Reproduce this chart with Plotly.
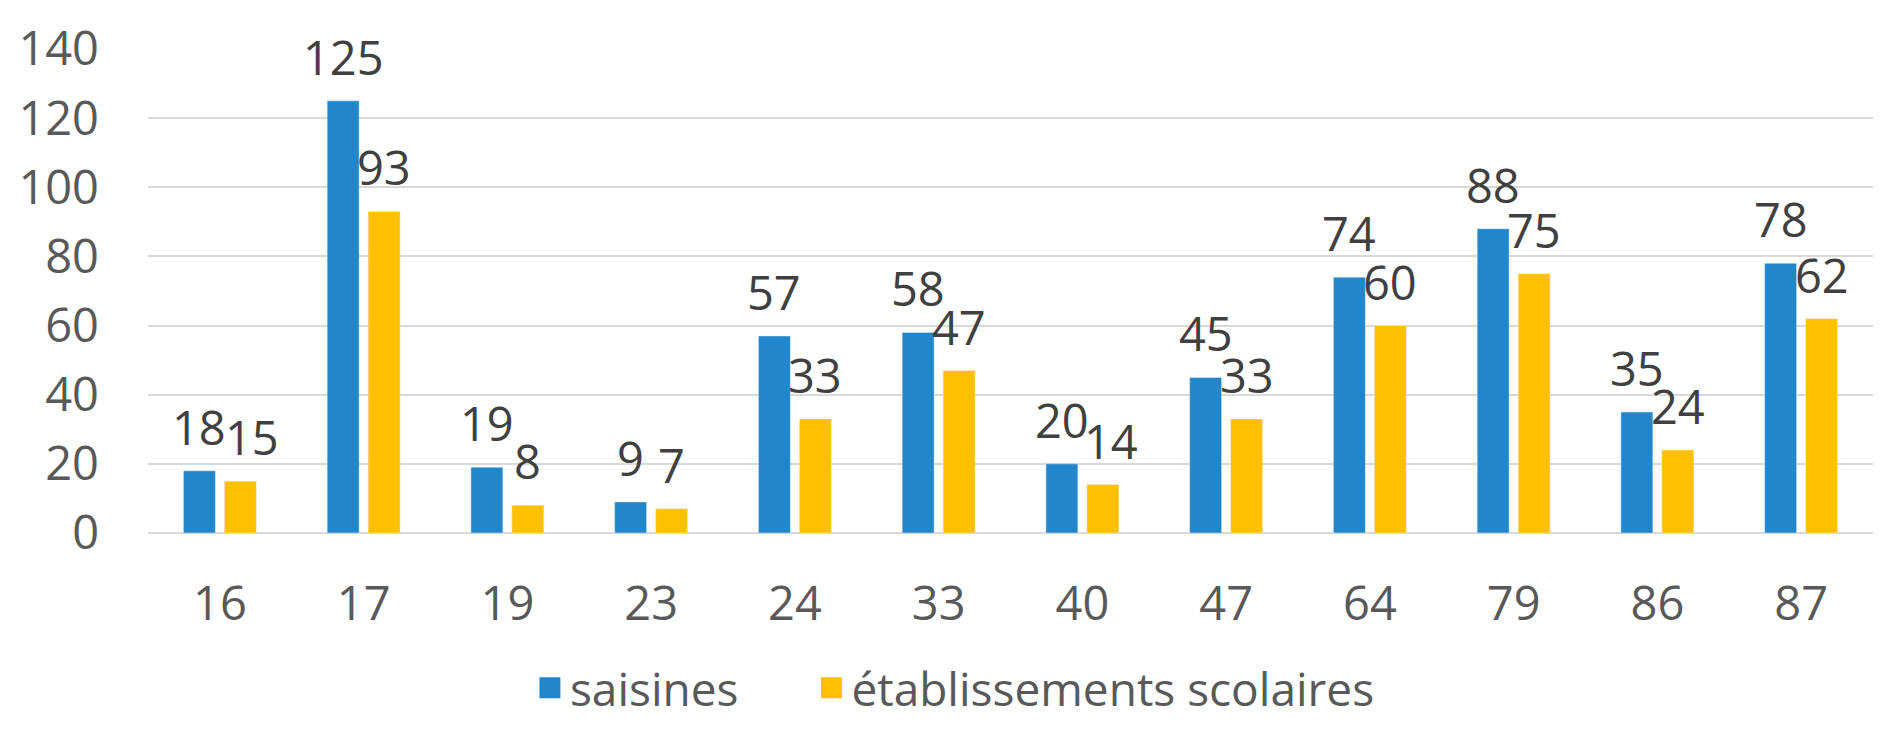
import plotly.graph_objects as go

categories = ["16", "17", "19", "23", "24", "33", "40", "47", "64", "79", "86", "87"]
saisines = [18, 125, 19, 9, 57, 58, 20, 45, 74, 88, 35, 78]
etablissements = [15, 93, 8, 7, 33, 47, 14, 33, 60, 75, 24, 62]
series_names = ["saisines", "établissements scolaires"]
y_ticks = [0, 20, 40, 60, 80, 100, 120, 140]

BLUE = "#2187CA"
GOLD = "#FFC000"
FONT = "Open Sans"
FS = 47

fig = go.Figure()
fig.add_trace(go.Bar(x=categories, y=saisines, marker_color=BLUE, showlegend=False, name=series_names[0]))
fig.add_trace(go.Bar(x=categories, y=etablissements, marker_color=GOLD, showlegend=False, name=series_names[1]))

# legend entries with large square keys (one legend box per entry for exact spacing)
for name, col, lg in zip(series_names, [BLUE, GOLD], ["legend", "legend2"]):
    fig.add_trace(go.Scatter(x=[categories[0]], y=[None], mode="markers", name=name, legend=lg,
                             marker=dict(symbol="square", size=16, color=col,
                                         line=dict(color=col, width=5))))

# label placement tweaks (like the original's collision avoidance), in px
slot = 20.5
nudge = {(1, 0): 12, (1, 6): 8}
for s, (vals, shift) in enumerate([(saisines, -slot), (etablissements, slot)]):
    for i, v in enumerate(vals):
        fig.add_annotation(x=i, y=v, text=str(v), showarrow=False, yanchor="bottom",
                           xshift=shift + nudge.get((s, i), 0), yshift=10,
                           font=dict(family=FONT, size=FS, color="#404040"))

legend_common = dict(orientation="h", xanchor="left", y=-0.32, yanchor="middle",
                     font=dict(family=FONT, size=46, color="#595959"), itemsizing="trace",
                     bgcolor="rgba(0,0,0,0)")

fig.update_layout(
    width=1888, height=742,
    margin=dict(l=148, r=15, t=49, b=209, autoexpand=False),
    paper_bgcolor="white", plot_bgcolor="white",
    barmode="group", bargap=0.43, bargroupgap=0.22,
    font=dict(family=FONT, size=FS, color="#595959"),
    legend=dict(x=0.2214, **legend_common),
    legend2=dict(x=0.3846, **legend_common),
)
fig.update_xaxes(type="category", range=[-0.5, len(categories) - 0.5], showgrid=False, showline=False,
                 ticks="", ticklabelstandoff=39,
                 tickfont=dict(family=FONT, size=FS, color="#595959"))
fig.update_yaxes(range=[0, 140], tickvals=y_ticks, showgrid=True, gridcolor="#D9D9D9", gridwidth=2,
                 zeroline=True, zerolinecolor="#D9D9D9", zerolinewidth=2, showline=False, ticks="",
                 ticklabelstandoff=48, tickfont=dict(family=FONT, size=FS, color="#595959"))

fig.write_html("out.html", config={"displayModeBar": False},
               post_script="document.body.style.margin='0px';")
